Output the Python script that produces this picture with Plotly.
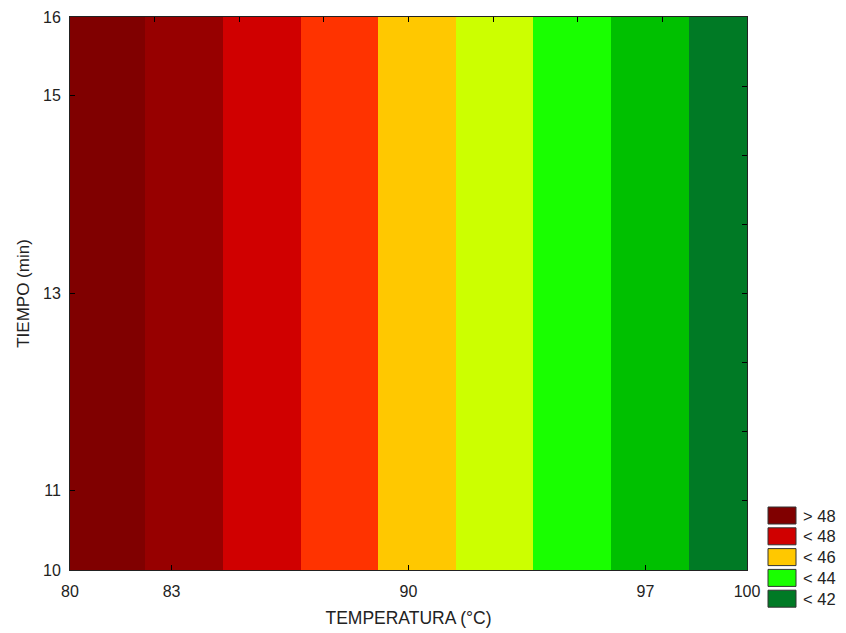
import plotly.graph_objects as go

# Data
temp_edges = [80, 82.23, 84.53, 86.83, 89.1, 91.4, 93.68, 95.98, 98.29, 100]
band_colors = ["#800000", "#970000", "#D00000", "#FF3300", "#FFC800",
               "#CCFF00", "#19FF00", "#00C000", "#007A25"]
time_lo, time_hi = 10.19, 15.80
x_ticks = [80, 83, 90, 97, 100]
y_ticks = [time_lo, 11, 13, 15, time_hi]
y_ticktext = ["10", "11", "13", "15", "16"]
legend_labels = ["> 48", "< 48", "< 46", "< 44", "< 42"]
legend_colors = ["#800000", "#D00000", "#FFC800", "#19FF00", "#007A25"]

W, H = 846, 633
L, R, T, B = 70, 99, 17, 63

n = len(band_colors)
cs = []
for i, c in enumerate(band_colors):
    cs.append([i / n, c])
    cs.append([(i + 1) / n, c])

fig = go.Figure()
fig.add_trace(go.Heatmap(
    x=temp_edges, y=[time_lo, time_hi], z=[list(range(n))],
    zmin=-0.5, zmax=n - 0.5, colorscale=cs, showscale=False, hoverinfo="x"))

fam = "Liberation Sans, Arial, sans-serif"
font = dict(family=fam, size=16, color="#222")

fig.update_layout(
    width=W, height=H, margin=dict(l=L, r=R, t=T, b=B),
    paper_bgcolor="white", plot_bgcolor="white", font=font,
    xaxis=dict(range=[80, 100], tickvals=x_ticks, ticks="inside", ticklen=5,
               tickcolor="black", showline=True, linecolor="#222", linewidth=1,
               mirror=True, showgrid=False, zeroline=False, ticklabelstandoff=7,
               automargin=False,
               title=dict(text="TEMPERATURA (°C)", standoff=12,
                          font=dict(family=fam, size=17.5, color="#222"))),
    yaxis=dict(range=[time_lo, time_hi], tickvals=y_ticks, ticktext=y_ticktext,
               ticks="inside", ticklen=5, automargin=False,
               tickcolor="black", showline=True, linecolor="#222", linewidth=1,
               mirror=True, showgrid=False, zeroline=False, ticklabelstandoff=5,
               title=dict(text="TIEMPO (min)", standoff=9,
                          font=dict(family=fam, size=17, color="#222"))),
    xaxis2=dict(range=[80, 100], overlaying="x", side="top", tick0=80, dtick=2.5,
                ticks="inside", ticklen=5, tickcolor="black", showticklabels=False,
                showgrid=False, zeroline=False, automargin=False),
    yaxis2=dict(range=[time_lo, time_hi], overlaying="y", side="right", tick0=time_lo,
                dtick=(time_hi - time_lo) / 8, automargin=False,
                ticks="inside", ticklen=5, tickcolor="black", showticklabels=False,
                showgrid=False, zeroline=False),
)
fig.add_trace(go.Scatter(x=[80], y=[time_lo], xaxis="x2", yaxis="y2", mode="markers",
                         marker=dict(opacity=0), showlegend=False, hoverinfo="skip"))

pw = W - L - R
ph = H - T - B
def px_x(p):
    return (p - L) / pw
def px_y(p):
    return 1 - (p - T) / ph

shapes = []
annotations = []
for i, (lab, col) in enumerate(zip(legend_labels, legend_colors)):
    y0 = 507 + i * 20.8
    shapes.append(dict(type="rect", xref="paper", yref="paper",
                       x0=px_x(768), x1=px_x(796), y0=px_y(y0 + 17), y1=px_y(y0),
                       fillcolor=col, line=dict(color="#333", width=1)))
    annotations.append(dict(xref="paper", yref="paper", x=px_x(801), y=px_y(y0 + 8.5),
                            text=lab, showarrow=False, xanchor="left", yanchor="middle",
                            font=dict(family=fam, size=16.5, color="#222")))
fig.update_layout(shapes=shapes, annotations=annotations)

fig.write_html("out.html")
